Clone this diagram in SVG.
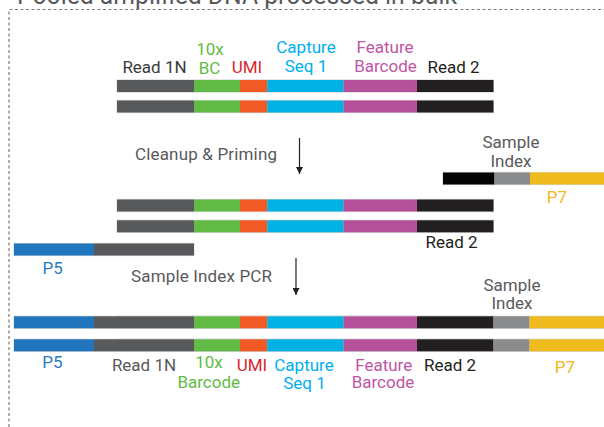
<svg xmlns="http://www.w3.org/2000/svg" width="604" height="427" viewBox="0 0 604 427">
<style>
text{font-family:Roboto,"Liberation Sans",Arial,sans-serif;font-size:17px;}
.c{text-anchor:middle;}
.gy{fill:#58595b}.dk{fill:#3a3a3c}.bk{fill:#231f20}.gr{fill:#62bb46}.rd{fill:#d9262e}.cy{fill:#00aeef}.mg{fill:#c055a5}.bl{fill:#2a7abf}.yl{fill:#f0b81c}
.o{fill:#d4d5d6}
.s1{fill:#58595b}.s2{fill:#62bb46}.s3{fill:#f15a24}.s4{fill:#00b1e4}.s5{fill:#b5519b}.s6{fill:#231f20}.s7{fill:#2075bc}.s8{fill:#8a8b8d}.s9{fill:#f0bb1f}.s0{fill:#050505}
.arr{stroke:#231f20;stroke-width:1.2;fill:none}
</style>
<defs>
<marker id="ah" viewBox="0 0 10 10" refX="10" refY="5" markerWidth="7" markerHeight="7" markerUnits="userSpaceOnUse" orient="auto">
<path d="M0,0 L10,5 L0,10 z" fill="#231f20"/>
</marker>
<g id="insert">
<rect class="o" x="116.5" y="-0.6" width="377.5" height="13.2"/>
<rect class="s1" x="117" y="0" width="77" height="12"/>
<rect class="s2" x="194" y="0" width="46" height="12"/>
<rect class="s3" x="240" y="0" width="27.3" height="12"/>
<rect class="s4" x="267.3" y="0" width="76.3" height="12"/>
<rect class="s5" x="343.6" y="0" width="73.4" height="12"/>
<rect class="s6" x="417" y="0" width="76.5" height="12"/>
</g>
<g id="full">
<rect class="o" x="13.5" y="-0.6" width="591" height="13.2"/>
<rect class="s7" x="14" y="0" width="80" height="12"/>
<use href="#insert"/>
<rect class="s1" x="94" y="0" width="24" height="12"/>
<rect class="s8" x="493.5" y="0" width="36" height="12"/>
<rect class="s9" x="529.5" y="0" width="74.5" height="12"/>
</g>
</defs>
<rect width="604" height="427" fill="#ffffff"/>

<g id="frame">
<path d="M9,427 V9.5 H604" fill="none" stroke="#7a7b7d" stroke-width="1.2" stroke-dasharray="3,2.5"/>
<text class="gy" x="17" y="4" style="font-size:25px" textLength="440" lengthAdjust="spacingAndGlyphs">Pooled amplified DNA processed in bulk</text>
</g>

<g id="stage1">
<text class="dk c" x="154.5" y="73">Read 1N</text>
<text class="gr c" x="210" y="55">10x</text>
<text class="gr c" x="209.5" y="73.5">BC</text>
<text class="rd c" x="247" y="73">UMI</text>
<text class="cy c" x="306" y="53">Capture</text>
<text class="cy c" x="306" y="72">Seq 1</text>
<text class="mg c" x="385" y="53">Feature</text>
<text class="mg c" x="385.5" y="71.5">Barcode</text>
<text class="bk c" x="453.5" y="73">Read 2</text>
<use href="#insert" y="80"/>
<use href="#insert" y="100.5"/>
</g>

<g id="step1">
<text class="gy" x="135" y="160" textLength="142">Cleanup &amp; Priming</text>
</g>

<g id="index-primer-top">
<text class="gy c" x="511" y="147.5">Sample</text>
<text class="gy c" x="511" y="166.5">Index</text>
<rect class="o" x="442.5" y="171.9" width="161.5" height="13.2"/>
<rect class="s0" x="443" y="172.5" width="51.5" height="12"/>
<rect class="s8" x="494.5" y="172.5" width="35.5" height="12"/>
<rect class="s9" x="530" y="172.5" width="74" height="12"/>
<text class="yl c" x="557" y="203">P7</text>
</g>

<g id="stage2">
<use href="#insert" y="199.5"/>
<use href="#insert" y="220.3"/>
<text class="bk c" x="451.5" y="248">Read 2</text>
</g>

<g id="p5-primer">
<rect class="o" x="13.5" y="242.9" width="181" height="13.2"/>
<rect class="s7" x="14" y="243.5" width="80" height="12"/>
<rect class="s1" x="94" y="243.5" width="100" height="12"/>
<text class="bl c" x="52.7" y="274">P5</text>
</g>

<g id="step2">
<text class="gy" x="131" y="282" textLength="141">Sample Index PCR</text>
</g>

<g id="stage3">
<text class="gy c" x="512" y="291">Sample</text>
<text class="gy c" x="512" y="309">Index</text>
<use href="#full" y="316.3"/>
<use href="#full" y="339.3"/>
<text class="bl c" x="52.5" y="368">P5</text>
<text class="gy c" x="144" y="371">Read 1N</text>
<text class="gr c" x="209" y="368">10x</text>
<text class="gr c" x="208.7" y="387.5">Barcode</text>
<text class="rd c" x="252" y="371">UMI</text>
<text class="cy c" x="304" y="371">Capture</text>
<text class="cy c" x="304.5" y="389">Seq 1</text>
<text class="mg c" x="383.7" y="371">Feature</text>
<text class="mg c" x="383" y="388.3">Barcode</text>
<text class="bk c" x="450" y="371">Read 2</text>
<text class="yl c" x="565" y="373">P7</text>
</g>

<g id="connectors">
<line class="arr" x1="299.5" y1="138" x2="299.5" y2="174" marker-end="url(#ah)"/>
<line class="arr" x1="296" y1="258" x2="296" y2="295" marker-end="url(#ah)"/>
</g>
</svg>
